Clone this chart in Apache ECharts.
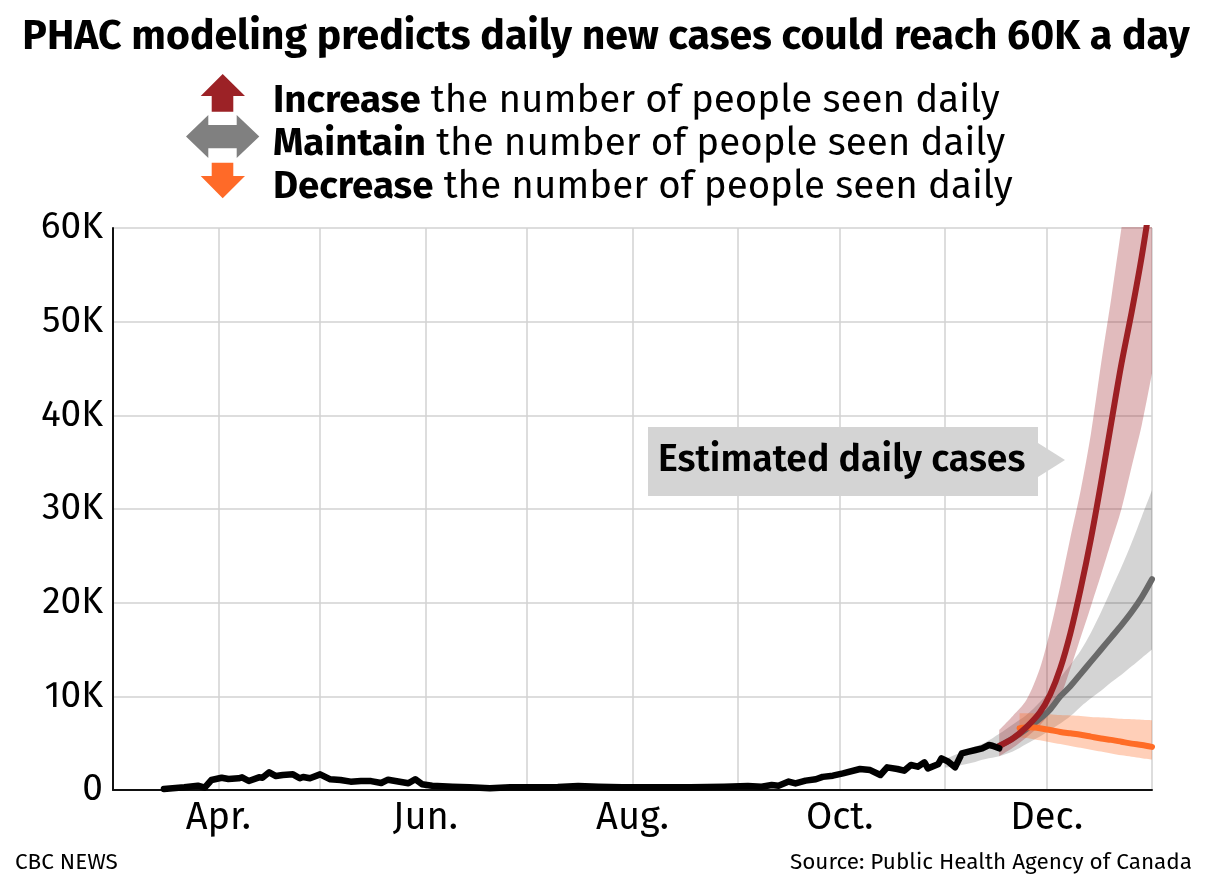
<!DOCTYPE html>
<html><head><meta charset="utf-8">
<script src="https://cdn.jsdelivr.net/npm/echarts@6/dist/echarts.min.js"></script>
<style>html,body{margin:0;padding:0;background:#fff}#c{width:1212px;height:885px}</style>
</head><body><div id="c"></div>
<script>
const FONT = '"Fira Sans","Open Sans","Noto Sans",sans-serif';

// x axis domain (daily categories) and labels
const axisStart = [2020, 2, 1];
const axisEnd = [2021, 0, 1];
const monthLabels = { '04': 'Apr.', '06': 'Jun.', '08': 'Aug.', '10': 'Oct.', '12': 'Dec.' };

// Estimated (actual) daily cases
const actualDates = ['2020-03-16','2020-03-22','2020-03-26','2020-03-28','2020-03-30','2020-04-02','2020-04-04','2020-04-07','2020-04-08','2020-04-10','2020-04-13','2020-04-14','2020-04-16','2020-04-18','2020-04-20','2020-04-23','2020-04-25','2020-04-26','2020-04-28','2020-05-01','2020-05-04','2020-05-07','2020-05-10','2020-05-13','2020-05-16','2020-05-19','2020-05-21','2020-05-24','2020-05-27','2020-05-29','2020-05-31','2020-06-03','2020-06-09','2020-06-14','2020-06-20','2020-06-26','2020-07-04','2020-07-10','2020-07-16','2020-07-22','2020-07-29','2020-08-08','2020-08-18','2020-08-28','2020-09-04','2020-09-08','2020-09-11','2020-09-13','2020-09-16','2020-09-18','2020-09-21','2020-09-24','2020-09-26','2020-09-29','2020-10-02','2020-10-07','2020-10-10','2020-10-13','2020-10-15','2020-10-18','2020-10-20','2020-10-22','2020-10-24','2020-10-26','2020-10-27','2020-10-30','2020-10-31','2020-11-02','2020-11-04','2020-11-06','2020-11-08','2020-11-10','2020-11-12','2020-11-14','2020-11-15','2020-11-17'];
const actualCases = [100,290,460,250,1070,1310,1170,1250,1350,960,1350,1310,1890,1490,1600,1670,1250,1390,1250,1670,1140,1070,890,960,950,750,1100,900,720,1150,620,460,350,290,180,290,290,320,430,350,290,290,290,350,430,350,530,460,900,700,1000,1150,1400,1530,1780,2240,2130,1600,2420,2240,2060,2670,2490,2950,2310,2740,3380,3020,2420,3910,4090,4270,4450,4800,4730,4450];

// Projections: increase (red) and maintain (gray) share dates
const projDates = ['2020-11-17','2020-11-21','2020-11-25','2020-11-29','2020-12-02','2020-12-05','2020-12-08','2020-12-11','2020-12-14','2020-12-17','2020-12-20','2020-12-23','2020-12-26','2020-12-29','2021-01-01'];
const increaseMid  = [4700,5500,6700,8300,10200,13000,16800,21500,26800,32800,39200,45500,51000,57000,64000];
const increaseLow  = [3600,4500,5600,6900,8300,10000,13000,16300,19600,23000,26500,30000,34500,39000,44500];
const increaseHigh = [6400,7900,9600,13000,17000,21800,27000,32000,38000,45500,52500,60000,67000,74000,81000];
const maintainMid  = [4700,5500,6500,7600,8600,10000,11100,12400,13700,15000,16300,17600,19000,20600,22500];

const maintainBandDates = ['2020-11-01','2020-11-05','2020-11-09','2020-11-13','2020-11-17','2020-11-21','2020-11-25','2020-11-29','2020-12-02','2020-12-05','2020-12-08','2020-12-11','2020-12-14','2020-12-17','2020-12-20','2020-12-23','2020-12-26','2020-12-29','2021-01-01'];
const maintainLow  = [2400,2600,2900,3300,3600,4100,4900,5700,6400,7100,7900,8900,9800,10600,11500,12300,13200,14100,15000];
const maintainHigh = [3300,3900,4500,5100,6000,7000,8000,9400,10600,12000,13400,14900,16800,19000,21400,23800,26400,29200,32000];

// Projection: decrease (orange)
const decreaseDates = ['2020-11-23','2020-11-26','2020-11-29','2020-12-02','2020-12-05','2020-12-08','2020-12-11','2020-12-14','2020-12-17','2020-12-20','2020-12-23','2020-12-26','2020-12-29','2021-01-01'];
const decreaseMid  = [6600,6700,6600,6400,6200,6050,5900,5700,5500,5350,5150,4950,4800,4600];
const decreaseLow  = [5600,5500,5300,5100,4900,4700,4500,4300,4100,3900,3700,3550,3400,3250];
const decreaseHigh = [8200,8200,8150,8100,8000,7950,7900,7800,7750,7700,7600,7550,7500,7450];

// build daily categories
const categories = [];
for (let t = Date.UTC(...axisStart); t <= Date.UTC(...axisEnd); t += 86400000) {
  categories.push(new Date(t).toISOString().slice(0, 10));
}
const zip = (d, v) => d.map((x, i) => [x, v[i]]);
const diff = (hi, lo) => hi.map((h, i) => h - lo[i]);

function band(name, dates, lo, hi, color) {
  return [
    { type: 'line', name: name + 'Low', stack: name, data: zip(dates, lo), symbol: 'none', smooth: 0.3,
      lineStyle: { opacity: 0 }, silent: true, z: 1 },
    { type: 'line', name: name + 'Range', stack: name, data: zip(dates, diff(hi, lo)), symbol: 'none', smooth: 0.3,
      lineStyle: { opacity: 0 }, areaStyle: { color: color, opacity: 1 }, silent: true, z: 1 }
  ];
}
function line(name, dates, vals, color, width, smooth) {
  return { type: 'line', name: name, data: zip(dates, vals), symbol: 'none', smooth: smooth,
    lineStyle: { color: color, width: width, join: 'round', cap: 'round' }, silent: true, z: 3 };
}

const RED = '#9c1f23', GRAY = '#696969', ORANGE = '#ff6c26';

const chart = echarts.init(document.getElementById('c'), null, { renderer: 'canvas' });
chart.setOption({
  animation: false,
  backgroundColor: '#fff',
  textStyle: { fontFamily: FONT },
  grid: { left: 113, right: 60, top: 228, bottom: 95, containLabel: false },
  xAxis: {
    type: 'category', data: categories, boundaryGap: false,
    axisLine: { show: true, lineStyle: { color: '#111', width: 2 } },
    axisTick: { show: false },
    axisLabel: {
      interval: (i, v) => v.slice(8) === '01' && monthLabels[v.slice(5, 7)] !== undefined,
      formatter: v => monthLabels[v.slice(5, 7)] || '',
      fontSize: 38, color: '#000', margin: 9, fontFamily: FONT
    },
    splitLine: { show: true, interval: (i, v) => v.slice(8) === '01', lineStyle: { color: '#d2d2d2', width: 1.5 } }
  },
  yAxis: {
    type: 'value', min: 0, max: 60000, interval: 10000,
    axisLine: { show: true, lineStyle: { color: '#111', width: 2 } },
    axisTick: { show: false },
    axisLabel: { formatter: v => v === 0 ? '0' : (v / 1000) + 'K', fontSize: 37, color: '#000', margin: 10, fontFamily: FONT },
    splitLine: { show: true, lineStyle: { color: '#d2d2d2', width: 1.5 } }
  },
  series: [
    ...band('maintainBand', maintainBandDates, maintainLow, maintainHigh, 'rgba(0,0,0,0.17)'),
    ...band('increaseBand', projDates, increaseLow, increaseHigh, 'rgba(156,31,35,0.3)'),
    ...band('decreaseBand', decreaseDates, decreaseLow, decreaseHigh, 'rgba(255,108,38,0.33)'),
    line('Maintain', projDates, maintainMid, GRAY, 6, 0.3),
    line('Decrease', decreaseDates, decreaseMid, ORANGE, 6, 0.3),
    line('Increase', projDates, increaseMid, RED, 6, 0.3),
    line('Estimated daily cases', actualDates, actualCases, '#000', 6.5, false)
  ],
  graphic: [
    { type: 'text', x: 606, y: 38,
      style: { text: 'PHAC modeling predicts daily new cases could reach 60K a day', font: 'bold 41px ' + FONT, fill: '#000', textAlign: 'center', textVerticalAlign: 'middle' } },
    // legend arrows
    { type: 'polygon', shape: { points: [[222.7,74],[245,96],[233.3,96],[233.3,111.7],[211.7,111.7],[211.7,96],[200.7,96]] }, style: { fill: '#9c2226' } },
    { type: 'polygon', shape: { points: [[186,136.5],[208.3,115],[208.3,125],[236.7,125],[236.7,115],[259.3,136.5],[236.7,158],[236.7,148.3],[208.3,148.3],[208.3,158]] }, style: { fill: '#808080' } },
    { type: 'polygon', shape: { points: [[211.7,162.7],[233.3,162.7],[233.3,176],[245,176],[222.7,198.3],[200.7,176],[211.7,176]] }, style: { fill: '#ff6a28' } },
    { type: 'text', x: 273, y: 101, style: { text: '{b|Increase} the number of people seen daily', font: '38.5px ' + FONT, fill: '#000', textVerticalAlign: 'middle', rich: { b: { fontWeight: 'bold', fontSize: 38.5, fontFamily: FONT } } } },
    { type: 'text', x: 273, y: 144, style: { text: '{b|Maintain} the number of people seen daily', font: '38.5px ' + FONT, fill: '#000', textVerticalAlign: 'middle', rich: { b: { fontWeight: 'bold', fontSize: 38.5, fontFamily: FONT } } } },
    { type: 'text', x: 273, y: 187, style: { text: '{b|Decrease} the number of people seen daily', font: '38.5px ' + FONT, fill: '#000', textVerticalAlign: 'middle', rich: { b: { fontWeight: 'bold', fontSize: 38.5, fontFamily: FONT } } } },
    // annotation callout
    { type: 'rect', shape: { x: 648, y: 427, width: 390, height: 69 }, style: { fill: '#d4d4d4' }, z: 10 },
    { type: 'polygon', shape: { points: [[1038,443],[1065,460],[1038,477]] }, style: { fill: '#d4d4d4' }, z: 10 },
    { type: 'text', x: 658, y: 461, z: 11, style: { text: 'Estimated daily cases', font: '600 37.5px ' + FONT, fill: '#000', textVerticalAlign: 'middle' } },
    // footer
    { type: 'text', x: 15, y: 863, style: { text: 'CBC NEWS', font: '22.5px ' + FONT, fill: '#000', textVerticalAlign: 'middle' } },
    { type: 'text', x: 1192, y: 863, style: { text: 'Source: Public Health Agency of Canada', font: '22.5px ' + FONT, fill: '#000', textAlign: 'right', textVerticalAlign: 'middle' } }
  ]
});
</script>
</body></html>
